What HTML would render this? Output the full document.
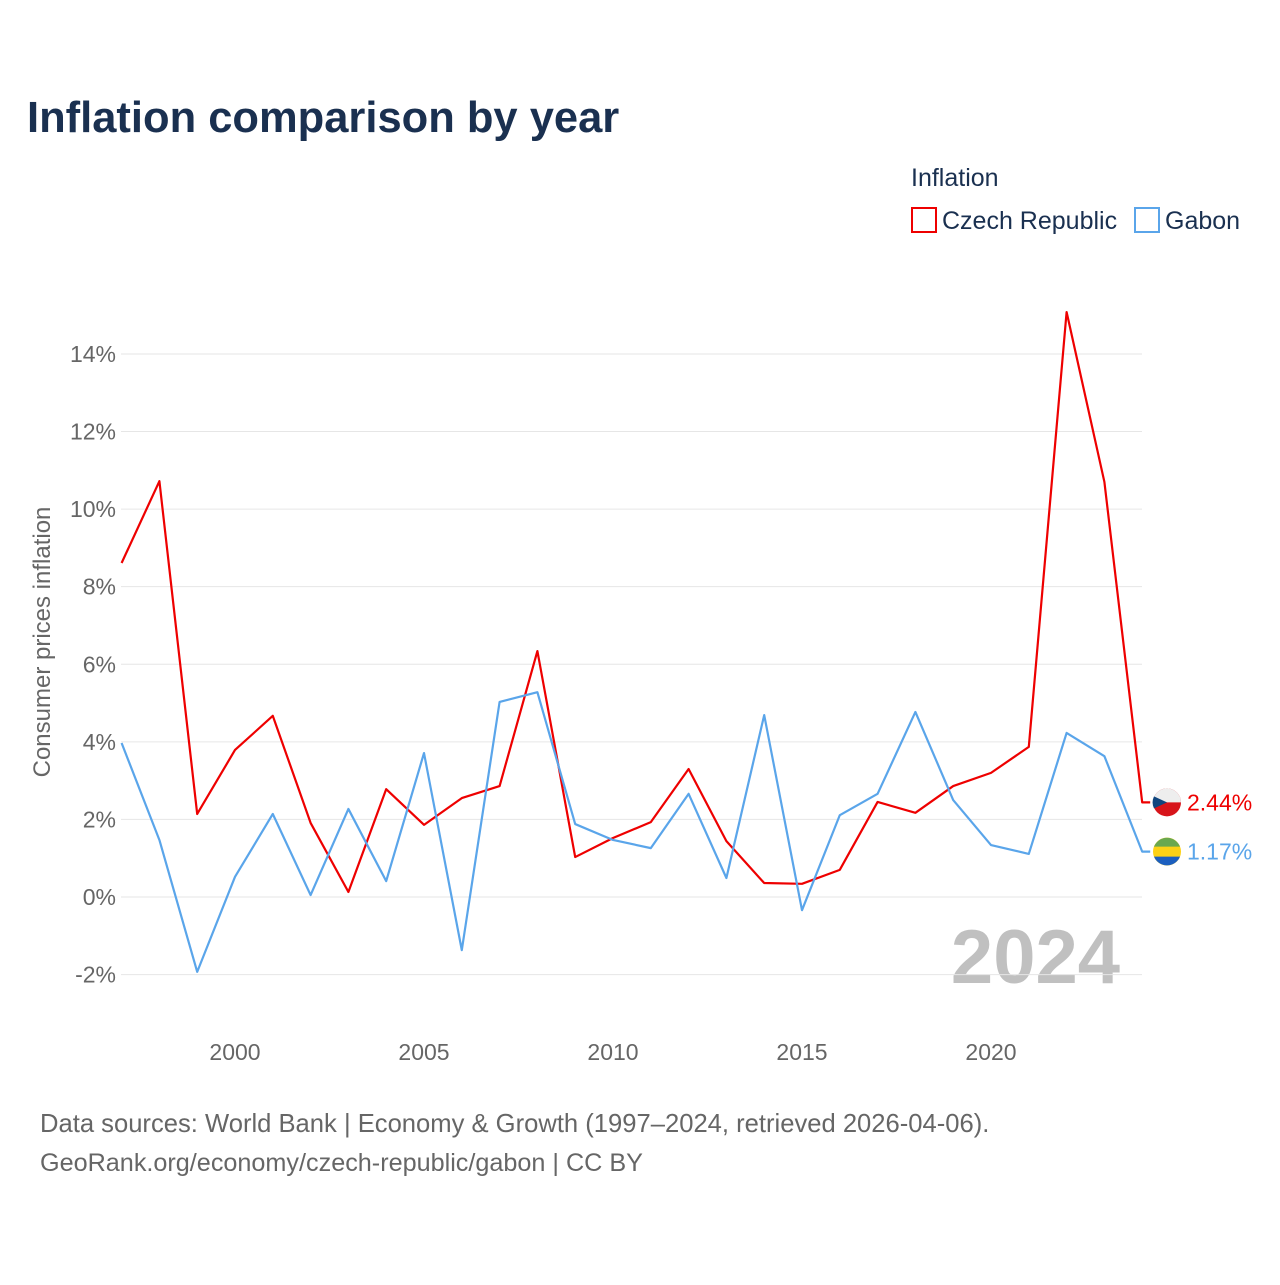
<!DOCTYPE html>
<html><head><meta charset="utf-8"><style>
body{margin:0;background:#fff;font-family:"Liberation Sans",sans-serif}
svg text{font-family:"Liberation Sans",sans-serif}
</style></head><body>
<svg id="chart" width="1280" height="1280" viewBox="0 0 1280 1280">
<text x="27" y="132" font-size="43.5" font-weight="bold" fill="#1a3050">Inflation comparison by year</text>
<text x="911" y="186" font-size="25" fill="#1a3050">Inflation</text>
<g><rect x="912" y="208" width="24" height="24" fill="none" stroke="#ee0000" stroke-width="2"/><text x="942" y="229" font-size="25" fill="#1a3050">Czech Republic</text></g>
<g><rect x="1135" y="208" width="24" height="24" fill="none" stroke="#5aa5ea" stroke-width="2"/><text x="1165" y="229" font-size="25" fill="#1a3050">Gabon</text></g>
<text transform="translate(50,642) rotate(-90)" text-anchor="middle" font-size="24" fill="#666">Consumer prices inflation</text>
<text x="1120" y="983" text-anchor="end" font-size="76" font-weight="bold" fill="#c0c0c0">2024</text>
<g id="grid"></g><g id="xt"></g><g id="series"></g>
<text x="40" y="1132" font-size="25.6" fill="#666">Data sources: World Bank | Economy &amp; Growth (1997–2024, retrieved 2026-04-06).</text>
<text x="40" y="1171" font-size="25.2" fill="#666">GeoRank.org/economy/czech-republic/gabon | CC BY</text>
</svg>
<script>
const years=[1997,1998,1999,2000,2001,2002,2003,2004,2005,2006,2007,2008,2009,2010,2011,2012,2013,2014,2015,2016,2017,2018,2019,2020,2021,2022,2023,2024];
const czech=[8.61,10.72,2.14,3.79,4.67,1.91,0.13,2.78,1.86,2.55,2.86,6.34,1.03,1.52,1.93,3.30,1.44,0.36,0.34,0.70,2.45,2.17,2.86,3.20,3.87,15.08,10.70,2.44];
const gabon=[3.97,1.47,-1.93,0.52,2.14,0.05,2.27,0.41,3.71,-1.37,5.03,5.28,1.88,1.47,1.26,2.66,0.49,4.69,-0.34,2.11,2.66,4.77,2.50,1.34,1.11,4.23,3.63,1.17];
const yTicks=[-2,0,2,4,6,8,10,12,14];
const xTicks=[2000,2005,2010,2015,2020];
const NS="http://www.w3.org/2000/svg";
const X=y=>121.6+(y-1997)*37.8, Y=v=>897-v*38.79;
function el(t,a,p){const e=document.createElementNS(NS,t);for(const k in a)e.setAttribute(k,a[k]);p.appendChild(e);return e;}
const grid=document.getElementById('grid');
yTicks.forEach(v=>{
 const l=el('line',{x1:121,x2:1142,y1:Y(v),y2:Y(v),stroke:'#e6e6e6','stroke-width':1},grid);
 
 
 const t=el('text',{x:116,y:Y(v)+8,'text-anchor':'end','font-size':23,fill:'#666'},grid);t.textContent=v+'%';
 
 
});
const xt=document.getElementById('xt');
xTicks.forEach(y=>{
 const t=el('text',{x:X(y),y:1060,'text-anchor':'middle','font-size':23,fill:'#666'},xt);t.textContent=y;
 
 
});
const sg=document.getElementById('series');
function series(vals,col,name,flag){
 const pts=vals.map((v,i)=>X(years[i])+','+Y(v)).join(' ');
 const p=el('polyline',{points:pts+' '+(X(2024)+8)+','+Y(vals[vals.length-1]),fill:'none',stroke:col,'stroke-width':2.2,'stroke-linejoin':'round'},sg);
 
 
 const ly=Y(vals[vals.length-1]);
 const g=el('g',{},sg);
 
 
 flag(g,1167,ly);
 const t=el('text',{x:1187,y:ly+8,'font-size':23,fill:col},g);t.textContent=vals[vals.length-1].toFixed(2)+'%';
}
series(czech,'#ee0000','czech',(g,cx,cy)=>{
 el('circle',{cx,cy,r:14,fill:'#d7141a'},g);
 el('path',{d:`M${cx-14},${cy} A14,14 0 0 1 ${cx+14},${cy} Z`,fill:'#eee'},g);
 el('path',{d:`M${cx-13},${cy-6} L${cx},${cy} L${cx-13},${cy+6} A14,14 0 0 1 ${cx-13},${cy-6} Z`,fill:'#11457e'},g);
});
series(gabon,'#5aa5ea','gabon',(g,cx,cy)=>{
 el('circle',{cx,cy,r:14,fill:'#fcd116'},g);
 el('path',{d:`M${cx-13},${cy-5} A14,14 0 0 1 ${cx+13},${cy-5} Z`,fill:'#6aa84f'},g);
 el('path',{d:`M${cx-13},${cy+5} A14,14 0 0 0 ${cx+13},${cy+5} Z`,fill:'#1c5fbf'},g);
});
</script>
</body></html>
